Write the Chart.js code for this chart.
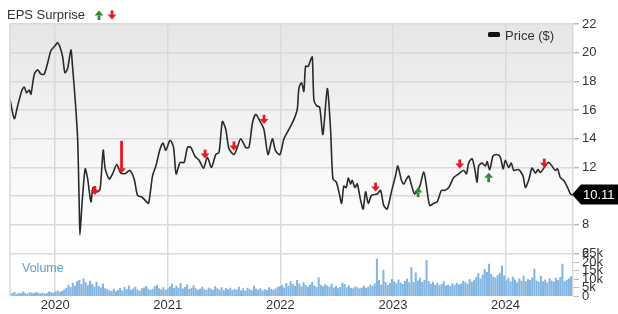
<!DOCTYPE html>
<html>
<head>
<meta charset="utf-8">
<script src="https://cdn.jsdelivr.net/npm/chart.js@4.4.1/dist/chart.umd.min.js"></script>
<style>
  html, body { margin: 0; padding: 0; background: #fff; }
  #wrap { width: 618px; height: 314px; }
</style>
</head>
<body>
<div id="wrap"><canvas id="chart" width="618" height="314"></canvas></div>
<script>
// dates are decimal years, prices in $
const priceDates = [
  2019.598, 2019.636, 2019.666, 2019.705, 2019.725, 2019.746, 2019.769, 2019.784, 2019.814, 2019.844,
  2019.873, 2019.902, 2019.933, 2019.962, 2020.000, 2020.021, 2020.042, 2020.066, 2020.086, 2020.110,
  2020.139, 2020.154, 2020.177, 2020.199, 2020.213, 2020.219, 2020.237, 2020.266, 2020.288, 2020.317,
  2020.337, 2020.376, 2020.399, 2020.426, 2020.444, 2020.479, 2020.509, 2020.547, 2020.583, 2020.627,
  2020.663, 2020.701, 2020.731, 2020.769, 2020.799, 2020.829, 2020.864, 2020.894, 2020.932, 2020.958,
  2020.982, 2021.020, 2021.051, 2021.074, 2021.109, 2021.145, 2021.175, 2021.204, 2021.240, 2021.278,
  2021.317, 2021.352, 2021.388, 2021.426, 2021.455, 2021.485, 2021.515, 2021.544, 2021.588, 2021.618,
  2021.648, 2021.692, 2021.721, 2021.752, 2021.781, 2021.810, 2021.854, 2021.890, 2021.929, 2021.958,
  2021.996, 2022.032, 2022.076, 2022.121, 2022.151, 2022.165, 2022.189, 2022.209, 2022.224, 2022.248,
  2022.269, 2022.284, 2022.298, 2022.322, 2022.349, 2022.378, 2022.417, 2022.446, 2022.467, 2022.497,
  2022.520, 2022.544, 2022.564, 2022.586, 2022.603, 2022.624, 2022.639, 2022.662, 2022.683, 2022.713,
  2022.736, 2022.757, 2022.781, 2022.810, 2022.861, 2022.890, 2022.919, 2022.949, 2022.988, 2023.023,
  2023.043, 2023.076, 2023.097, 2023.121, 2023.141, 2023.171, 2023.194, 2023.239, 2023.274, 2023.298,
  2023.327, 2023.363, 2023.393, 2023.431, 2023.458, 2023.496, 2023.540, 2023.585, 2023.629, 2023.653,
  2023.674, 2023.704, 2023.727, 2023.748, 2023.762, 2023.792, 2023.822, 2023.837, 2023.860, 2023.890,
  2023.925, 2023.955, 2023.979, 2023.999, 2024.028, 2024.052, 2024.073, 2024.117, 2024.156, 2024.177,
  2024.206, 2024.236, 2024.266, 2024.289, 2024.310, 2024.354, 2024.383, 2024.413, 2024.442, 2024.463,
  2024.487, 2024.516, 2024.546, 2024.581, 2024.593
]
const priceValues = [
  16.74, 15.4, 16.3, 17.4, 17.6, 17.2, 17.4, 17.1, 18.5, 18.8,
  18.5, 18.5, 19.3, 20.15, 20.5, 20.7, 20.4, 19.7, 18.6, 18.9,
  20.2, 19.0, 16.74, 13.97, 9.36, 7.3, 9.36, 11.9, 11.2, 9.6,
  10.6, 10.3, 10.5, 13.2, 11.9, 11.2, 11.55, 12.2, 11.6, 11.6,
  11.8, 11.2, 10.05, 9.94, 9.7, 9.5, 11.4, 12.1, 13.3, 13.7,
  13.2, 13.9, 13.4, 11.55, 12.35, 12.35, 13.4, 13.4, 12.8, 12.5,
  11.95, 12.7, 12.0, 12.9, 13.05, 15.2, 14.65, 13.3, 12.9, 13.4,
  14.0, 13.4, 13.4, 15.1, 15.7, 15.35, 14.65, 12.9, 14.0, 13.15,
  12.9, 14.0, 14.65, 15.35, 16.1, 17.55, 17.9, 17.3, 19.05, 19.05,
  19.5, 19.7, 16.7, 16.3, 16.2, 14.3, 17.5, 14.65, 11.2, 10.98,
  10.3, 9.5, 10.7, 10.6, 11.25, 10.85, 11.1, 10.6, 10.85, 9.7,
  9.1, 10.3, 9.5, 10.05, 10.15, 10.4, 9.35, 9.1, 10.35, 11.4,
  12.1, 11.1, 10.85, 11.2, 11.4, 10.6, 10.15, 10.7, 11.7, 10.7,
  9.35, 9.5, 9.6, 10.4, 10.4, 10.6, 11.3, 11.55, 11.8, 11.55,
  12.35, 12.6, 11.9, 10.98, 12.1, 12.3, 12.1, 12.4, 11.85, 12.8,
  12.9, 12.7, 11.9, 12.5, 12.0, 12.3, 11.8, 11.85, 11.4, 10.6,
  11.1, 11.95, 11.6, 11.85, 11.65, 12.1, 12.35, 12.1, 11.8, 11.9,
  11.3, 11.1, 10.7, 10.1, 10.11
]
const lastPrice = 10.11

// weekly volume in thousands, first week starts at volStart
const volStart = 2019.6
const volumeK = [
  2.1, 1.8, 2.5, 1.6, 2.2, 1.9, 2.8, 2.0, 1.7, 2.4,
  2.1, 1.8, 2.6, 2.2, 1.9, 2.3, 1.7, 2.0, 2.9, 2.4, 2.2,
  2.8, 3.5, 2.6, 3.2, 4.0, 5.1, 6.8, 5.5, 7.9, 6.2, 8.8,
  9.5, 7.1, 10.4, 8.3, 6.5, 9.1, 7.4, 5.8, 8.6, 6.0, 5.2, 7.3, 4.8,
  4.1, 3.6, 3.2, 4.4, 3.0, 3.8, 4.9, 3.5, 5.6, 4.2, 6.4, 3.9, 4.6, 5.8, 4.0,
  3.3, 4.8, 5.2, 6.1, 4.4, 3.7, 4.5, 5.9, 6.6, 4.8, 4.2, 5.4, 3.9, 4.6,
  5.8, 7.4, 4.9, 6.2, 5.1, 7.8, 4.6, 5.5, 6.9, 4.3, 5.0, 6.3, 4.8, 3.9, 4.5, 5.6,
  4.1, 3.7, 5.2, 4.4, 3.8, 5.9, 4.7, 4.0, 5.3, 3.6, 4.9, 4.2, 5.0, 3.8, 4.5,
  4.0, 5.6, 3.5, 4.8, 3.3, 5.1, 4.2, 3.6, 6.2, 4.5, 3.9, 4.7, 3.4, 4.1, 3.8,
  5.3, 4.4, 3.7, 4.6, 5.5, 6.1,
  6.5, 5.2, 7.8, 6.0, 8.9, 7.2, 6.1, 9.6, 7.5, 5.8, 8.2, 6.7, 5.6, 7.0, 8.4,
  6.3, 5.5, 11.0, 6.8, 5.9, 7.1,
  6.2, 5.6, 7.4, 5.1, 6.0, 4.8, 5.5, 7.9, 7.2, 5.4, 6.3, 5.0, 4.7, 5.8, 5.3,
  4.6, 5.2, 6.4, 5.0, 5.6, 6.8, 6.1, 7.5,
  22.0, 9.5, 7.0, 15.5, 8.4, 6.6, 7.8, 10.2, 8.9, 7.6, 9.8, 8.1, 7.2, 9.0, 10.5, 8.3,
  17.0, 8.6, 14.0, 9.2, 10.8, 8.4, 9.6, 21.0,
  9.0, 7.4, 8.5, 6.8, 7.9, 6.5, 7.2, 8.8, 6.4, 7.0, 6.1, 7.7, 6.6, 8.0, 6.9,
  7.5, 9.1, 8.2, 7.3, 10.0, 8.6, 9.4,
  11.2, 13.5, 10.4, 12.8, 16.0, 14.2, 19.0, 13.0, 11.6, 10.8, 12.5, 13.8, 18.0, 12.2,
  9.4, 10.8, 8.7, 11.5, 9.9, 8.2, 10.4, 9.1, 12.0, 8.8, 10.2, 9.6, 11.0,
  16.0, 9.2, 8.5, 12.0, 8.9, 9.8, 8.1, 10.6, 9.3, 8.7, 10.9, 9.5, 11.3,
  19.0, 8.8, 9.6, 10.4, 11.8
]

// EPS surprise markers
const beatDates = [2023.224, 2023.851]
const beatValues = [10.28, 11.32]
const missDates = [2020.352, 2020.589, 2021.331, 2021.588, 2021.855, 2022.846, 2023.594, 2024.345]
const missValues = [10.4, 11.6, 12.93, 13.5, 15.35, 10.63, 12.24, 12.3]
const missTails = [null, 13.85, null, null, null, null, null, null]

const xMin = 2019.598
const xMax = 2024.6
const FONT = '"Liberation Sans", Arial, Helvetica, sans-serif'
const RED = '#e8191f'
const GREEN = '#2b8a2b'
const GRID = '#dadada'

var weekLen = 1 / 52.18
var volumePoints = volumeK.map((v, i) => ({ x: volStart + i * weekLen, y: v }))
var pricePoints = priceDates.map((d, i) => ({ x: d, y: priceValues[i] }))

function drawArrow(ctx, x, y, up, color, tailY) {
  ctx.save()
  ctx.fillStyle = color
  var dir = up ? -1 : 1
  var tip = tailY == null ? y + 4.5 * dir : y
  var base = tip - 5 * dir
  var tail = tailY == null ? y - 4.5 * dir : tailY
  ctx.beginPath()
  ctx.moveTo(x - 4.4, base)
  ctx.lineTo(x + 4.4, base)
  ctx.lineTo(x, tip)
  ctx.closePath()
  ctx.fill()
  ctx.fillRect(x - 1.4, Math.min(tail, base), 2.8, Math.abs(base - tail) + 0.5)
  ctx.restore()
}

const decorations = {
  id: 'decorations',
  beforeDraw(chart) {
    var ctx = chart.ctx
    var y = chart.scales.y
    var area = chart.chartArea
    var g = ctx.createLinearGradient(0, y.top, 0, y.bottom)
    g.addColorStop(0, '#e6e6e6')
    g.addColorStop(0.75, '#fbfbfb')
    g.addColorStop(1, '#ffffff')
    ctx.save()
    ctx.fillStyle = g
    ctx.fillRect(area.left, y.top, area.right - area.left, y.bottom - y.top)
    ctx.restore()
  },
  afterDatasetsDraw(chart) {
    var ctx = chart.ctx
    var xs = chart.scales.x
    var ys = chart.scales.y
    var area = chart.chartArea

    ctx.save()
    ctx.strokeStyle = GRID
    ctx.lineWidth = 1.5
    ctx.beginPath()
    ctx.moveTo(area.left, area.top)
    ctx.lineTo(area.left, area.bottom)
    ctx.stroke()

    missDates.forEach((d, i) => {
      var tail = missTails[i] == null ? null : ys.getPixelForValue(missTails[i])
      drawArrow(ctx, xs.getPixelForValue(d), ys.getPixelForValue(missValues[i]), false, RED, tail)
    })
    beatDates.forEach((d, i) => {
      drawArrow(ctx, xs.getPixelForValue(d), ys.getPixelForValue(beatValues[i]), true, GREEN, null)
    })

    // title
    ctx.fillStyle = '#333'
    ctx.font = '13px ' + FONT
    ctx.textBaseline = 'middle'
    ctx.textAlign = 'left'
    ctx.fillText('EPS Surprise', 7, 15)
    drawArrow(ctx, 99, 15, true, GREEN, null)
    drawArrow(ctx, 112, 15, false, RED, null)

    // legend
    ctx.fillStyle = '#111'
    ctx.beginPath()
    ctx.roundRect(488, 32, 12, 5, 1.5)
    ctx.fill()
    ctx.fillStyle = '#333'
    ctx.fillText('Price ($)', 505, 36)

    // volume label
    ctx.fillStyle = '#5a9fd2'
    ctx.font = '12.5px ' + FONT
    ctx.fillText('Volume', 22, 269)

    // last price flag
    var py = ys.getPixelForValue(lastPrice)
    var fx = area.right - 1
    ctx.fillStyle = '#000'
    ctx.beginPath()
    ctx.moveTo(fx, py)
    ctx.lineTo(fx + 9, py - 10)
    ctx.lineTo(618, py - 10)
    ctx.lineTo(618, py + 10)
    ctx.lineTo(fx + 9, py + 10)
    ctx.closePath()
    ctx.fill()
    ctx.fillStyle = '#fff'
    ctx.font = '13px ' + FONT
    ctx.fillText(lastPrice.toFixed(2), fx + 11, py + 1)
    ctx.restore()
  }
}

function fixWidth(scale) { scale.width = 45 }

new Chart(document.getElementById('chart'), {
  type: 'line',
  data: {
    datasets: [
      {
        type: 'line',
        label: 'Price ($)',
        data: pricePoints,
        yAxisID: 'y',
        borderColor: '#2a2a2a',
        borderWidth: 1.6,
        pointRadius: 0,
        tension: 0.25,
        fill: false
      },
      {
        type: 'bar',
        label: 'Volume',
        data: volumePoints,
        yAxisID: 'yVol',
        backgroundColor: '#82b5e0',
        barPercentage: 0.95,
        categoryPercentage: 1
      }
    ]
  },
  options: {
    responsive: false,
    animation: false,
    layout: { padding: { top: 24, left: 10, right: 0, bottom: 0 } },
    plugins: { legend: { display: false }, tooltip: { enabled: false } },
    scales: {
      x: {
        type: 'linear',
        offset: false,
        min: xMin,
        max: xMax,
        ticks: {
          stepSize: 1,
          includeBounds: false,
          autoSkip: false,
          maxRotation: 0,
          padding: 1,
          color: '#333',
          font: { family: FONT, size: 13 },
          callback: (v) => String(v)
        },
        grid: { offset: false, color: GRID, lineWidth: 1.5, drawTicks: false },
        border: { display: false }
      },
      y: {
        position: 'right',
        stack: 'panels',
        stackWeight: 5.35,
        min: 6,
        max: 22,
        ticks: { stepSize: 2, autoSkip: false, padding: 3, color: '#333', font: { family: FONT, size: 13 } },
        grid: { color: GRID, lineWidth: 1.5, tickLength: 6, tickColor: '#bbb' },
        border: { display: true, color: GRID, width: 1.5 },
        afterFit: fixWidth
      },
      yVol: {
        position: 'right',
        stack: 'panels',
        stackWeight: 1,
        min: 0,
        max: 25,
        ticks: {
          stepSize: 5,
          autoSkip: false,
          padding: 3,
          color: '#333',
          font: { family: FONT, size: 13 },
          callback: (v) => v === 0 ? '0' : v + 'k'
        },
        grid: { drawOnChartArea: false, tickLength: 6, tickColor: '#bbb' },
        border: { display: true, color: GRID, width: 1.5 },
        afterFit: fixWidth
      }
    }
  },
  plugins: [decorations]
})
</script>
</body>
</html>
